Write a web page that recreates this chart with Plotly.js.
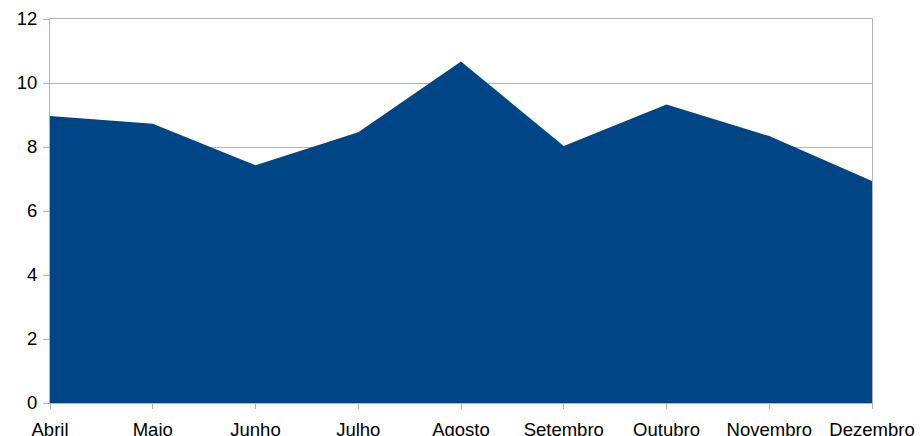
<!DOCTYPE html>
<html>
<head>
<meta charset="utf-8">
<script src="https://cdn.plot.ly/plotly-3.0.1.min.js"></script>
<style>html,body{margin:0;padding:0;background:#fff;}#chart{width:920px;height:436px;}</style>
</head>
<body>
<div id="chart"></div>
<script>
const months = ["Abril","Maio","Junho","Julho","Agosto","Setembro","Outubro","Novembro","Dezembro"];
const values = [8.97, 8.73, 7.43, 8.46, 10.67, 8.03, 9.33, 8.34, 6.94];
const yTicks = [0, 2, 4, 6, 8, 10, 12];

const trace = {
  x: months,
  y: values,
  type: "scatter",
  mode: "lines",
  fill: "tozeroy",
  fillcolor: "#004586",
  line: {color: "#004586", width: 0},
  hoverinfo: "x+y"
};

const layout = {
  width: 920,
  height: 436,
  margin: {l: 50, r: 48, t: 19, b: 33},
  paper_bgcolor: "#ffffff",
  plot_bgcolor: "#ffffff",
  showlegend: false,
  font: {family: "Liberation Sans, Arial, sans-serif", size: 18.5, color: "#000000"},
  xaxis: {
    type: "category",
    range: [0, months.length - 1],
    showgrid: false,
    showline: true,
    mirror: true,
    linecolor: "#b3b3b3",
    linewidth: 1,
    ticks: "outside",
    ticklen: 5,
    tickcolor: "#b3b3b3",
    zeroline: false,
    tickfont: {size: 18.5},
    ticklabelstandoff: 5
  },
  yaxis: {
    range: [0, 12],
    tickvals: yTicks,
    ticktext: yTicks.map(String),
    showgrid: true,
    gridcolor: "#b3b3b3",
    gridwidth: 1,
    showline: true,
    mirror: true,
    linecolor: "#b3b3b3",
    linewidth: 1,
    ticks: "outside",
    ticklen: 6,
    tickcolor: "#b3b3b3",
    zeroline: false,
    tickfont: {size: 18.5},
    ticklabelstandoff: 2
  }
};

Plotly.newPlot("chart", [trace], layout, {displayModeBar: false, staticPlot: true});
</script>
</body>
</html>
